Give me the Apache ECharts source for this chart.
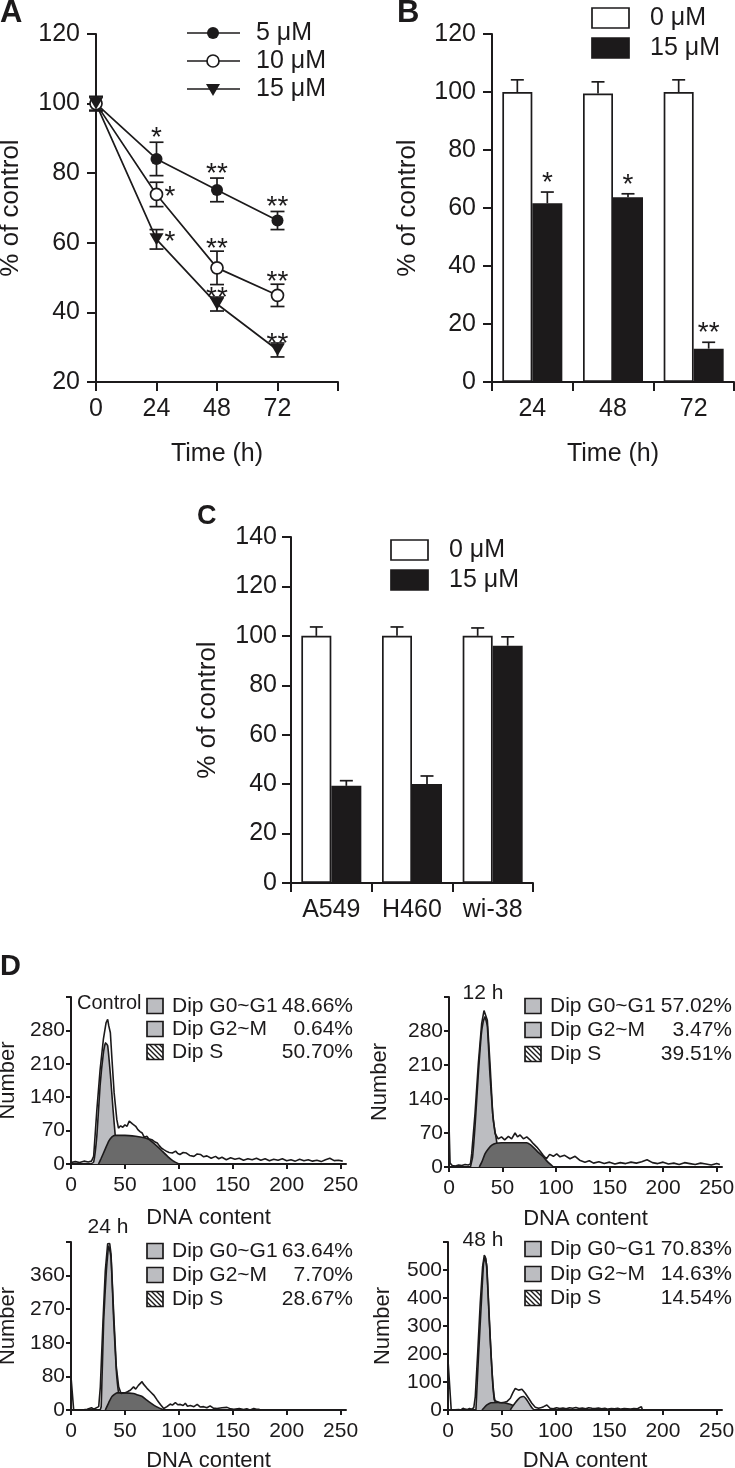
<!DOCTYPE html>
<html>
<head>
<meta charset="utf-8">
<script src="https://cdn.jsdelivr.net/npm/echarts@6/dist/echarts.min.js"></script>
<style>
html, body { margin: 0; padding: 0; background: #fff; }
#main { width: 735px; height: 1468px; }
</style>
</head>
<body>
<div id="main"></div>
<script>
// ---- A: viability vs time (3 doses)
var timeA = [0, 24, 48, 72];
var timeLabelsA = ['0', '24', '48', '72', ''];
var a5 = [100, 84.1, 75.2, 66.4];
var a5Err = [2, 4.8, 3.4, 2.6];
var a10 = [100, 73.9, 52.8, 44.9];
var a10Err = [2, 3.5, 4.8, 3.2];
var a15 = [100, 61.0, 42.4, 29.2];
var a15Err = [2, 2.8, 2.0, 2.0];
var a5Stars = ['', '*', '**', '**'];
var a10Stars = ['', '*', '**', '**'];
var a15Stars = ['', '*', '**', '**'];
var a10StarSide = ['top', 'right', 'top', 'top'];
var a15StarSide = ['top', 'right', 'top', 'top'];

// ---- B: 0 vs 15 uM by time
var timeB = ['24', '48', '72'];
var b0 = [100, 99.5, 100];
var b0Err = [4.2, 4.0, 4.2];
var b15 = [61.6, 63.7, 11.5];
var b15Err = [3.9, 1.2, 2.2];
var b15Stars = ['*', '*', '**'];

// ---- C: cell lines
var cellsC = ['A549', 'H460', 'wi-38'];
var c0 = [100, 100, 100];
var c0Err = [3.6, 3.6, 3.2];
var c15 = [39.3, 40.1, 96.0];
var c15Err = [2.1, 3.2, 3.6];

// ---- D: cell cycle histograms [DNA content, number]
var phaseNames = ['Dip G0~G1', 'Dip G2~M', 'Dip S'];
var dxTicks = [0, 50, 100, 150, 200, 250];

var ctrlPct = [48.66, 0.64, 50.70];
var ctrlYLabels = ['0', '70', '140', '210', '280', ''];
var ctrlRaw = [[0,3],[4,5],[8,3],[12,6],[16,4],[19,6],[21,16],[24,114],[27,198],[30,261],[32.5,296],[34,303],[35,290],[36.5,275],[38,219],[40,149],[42.5,93],[44,75],[46,80],[48,77],[50,82],[52,79],[54,90],[55.5,93],[57,84],[58,82],[60,79],[62,72],[64,68],[66,65],[68,56],[69,54],[70.5,58],[72,53],[75,51],[78,46],[80,44],[82,38],[84,33],[86,30],[89,26],[91,24],[94,23],[97,27],[99,22],[101,20],[104,24],[107,23],[110,18],[114,16],[117,21],[120,20],[123,15],[126,17],[130,12],[134,16],[137,11],[140,14],[144,9],[148,13],[152,10],[156,12],[160,8],[164,11],[168,9],[172,12],[176,8],[180,11],[184,7],[188,10],[192,8],[196,11],[200,7],[204,9],[208,6],[212,10],[216,7],[220,9],[224,6],[228,8],[232,5],[236,9],[240,12],[244,7],[248,8],[252,6]];
var ctrlG1 = [[18,0],[21,4],[24,60],[27,165],[30,232],[32,254],[34,248],[36.5,188],[39,114],[41,60],[43,25],[45,8],[47,0]];
var ctrlS = [[25.5,0],[28,12],[31.5,30],[35,48],[38,57],[41,60],[50,60],[60,58],[68,55],[72,52],[76,45],[80,37],[85,26],[90,15],[95,6],[100,0]];

var h12Pct = [57.02, 3.47, 39.51];
var h12YLabels = ['0', '70', '140', '210', '280', ''];
var h12Raw = [[0,89],[1,8],[3,3],[6,2],[9,4],[12,3],[15,5],[18,4],[20,6],[21.2,27],[24.3,110],[27.4,213],[30.5,295],[32.7,322],[34.3,324],[35.8,302],[38.3,213],[40.8,110],[43,69],[46,58],[49,62],[52,56],[55.5,63],[58.5,58],[61.7,70],[64,62],[66.4,66],[69.5,58],[72.6,62],[75.7,56],[78.8,48],[82,41],[85,33],[88,24],[91,17],[94,26],[97.5,22],[100.6,27],[103.7,21],[108,24],[113,17],[117.8,22],[122,14],[127,10],[131,13],[135,8],[140,11],[145,7],[150,10],[155,6],[160,9],[165,7],[170,10],[175,8],[180,11],[185,15],[190,9],[195,7],[200,10],[205,6],[210,8],[215,5],[220,9],[225,7],[230,5],[235,8],[240,6],[245,4],[250,7],[253,5]];
var h12G1 = [[20,0],[22,20],[24.5,90],[27.4,192],[30,270],[32,300],[33.6,309],[35.8,290],[38,200],[39.5,150],[41.4,96],[44,60],[46,30],[48,0]];
var h12S = [[28.3,0],[31,12],[33.6,27],[37,38],[40,45],[44,49],[49,50],[60,50],[72.6,50],[76,46],[79,40],[84,29],[88,21],[92,11],[97.5,0]];

var h24Pct = [63.64, 7.70, 28.67];
var h24YLabels = ['0', '80', '180', '270', '360', ''];
var h24Raw = [[0,89],[2.5,0],[10,0],[15,2],[16,6],[19,6],[21,2],[22.6,2],[25.7,9],[27.2,62],[29.7,240],[31.8,373],[34,445],[35.9,446],[37.1,418],[39.6,258],[42,116],[44.2,62],[46.4,44],[50.4,46],[53,50],[55,53],[58,62],[60,56],[61.2,58],[62.5,66],[63.7,71],[65.9,76],[67,70],[68,67],[70.5,58],[73.6,49],[76.7,40],[79.8,27],[82.9,15],[86,4],[89,9],[92,16],[94,13],[96.8,20],[99,14],[101.4,15],[104,12],[106,18],[108,10],[110.7,12],[114,9],[117,15],[120,8],[123,9],[126,6],[129,11],[132,5],[135.4,4],[140,6],[144.7,7],[148,3],[151,2],[156,4],[160,1],[163,3],[166,0],[169.5,4],[172,2],[174,2],[176,0]];
var h24G1 = [[27,0],[28,9],[30.3,240],[32.8,373],[35,440],[37.1,409],[39.6,240],[42,107],[44.2,44],[47.3,9],[49,0]];
var h24S = [[31.8,0],[35,20],[38,36],[42.7,46],[50,46],[58,44],[62,40],[66,36],[70,27],[76.7,13],[82,5],[86,0]];

var h48Pct = [70.83, 14.63, 14.54];
var h48YLabels = ['0', '100', '200', '300', '400', '500', ''];
var h48Raw = [[0,178],[3,0],[10,2],[12,0],[14,6],[16,3],[18,2],[20,5],[22,3],[24,8],[25.4,48],[27.6,202],[30,381],[32.2,512],[33.8,553],[35,541],[36.2,512],[37.8,381],[40,202],[41.8,83],[43,36],[45.5,30],[48,27],[50.2,26],[52.5,28],[54.8,30],[58,42],[60.4,62],[62.6,77],[64,74],[65.7,71],[67,76],[68.8,74],[70,68],[71.9,60],[75,42],[78,24],[81.2,10],[84.3,6],[87,9],[89,12],[92,18],[95,6],[98,4],[101,8],[104,5],[107,7],[110,4],[113,8],[116,6],[119,9],[122,5],[125,7],[128,4],[131,8],[134,6],[137,5],[140,7],[143,4],[146,6],[149,3],[152,5],[155,4],[158,6],[161,3],[164,5],[167,4],[170,3],[173,5],[176,4],[178,8],[180,12],[181,0]];
var h48G1 = [[26,0],[26.3,2],[28.5,202],[31,381],[33.1,524],[34.7,547],[36.2,500],[38.4,321],[40.9,143],[43,48],[45.5,6],[47,0]];
var h48S = [[31.6,0],[34,10],[36.2,18],[40,26],[46,27],[51.7,26],[55,23],[59.5,18],[63,12],[67,6],[71.9,0]];
var h48G2 = [[58,0],[60,12],[62.6,26],[65,37],[67.2,45],[70.3,48],[73.4,36],[76.5,17],[78.5,6],[80,0]];

var FONT = '"Liberation Sans", Arial, Helvetica, sans-serif';
var INK = '#1c1a1b';
var LIGHT = '#bcbdc1';
var DARK = '#6a6a6a';

function font(size, bold) {
    return (bold ? 'bold ' : '') + size + 'px ' + FONT;
}

function hatchFill() {
    var c = document.createElement('canvas');
    c.width = 5;
    c.height = 5;
    var g = c.getContext('2d');
    g.fillStyle = '#fff';
    g.fillRect(0, 0, 5, 5);
    g.strokeStyle = INK;
    g.lineWidth = 1.4;
    g.beginPath();
    g.moveTo(0, 0); g.lineTo(5, 5);
    g.moveTo(-1, 4); g.lineTo(1, 6);
    g.moveTo(4, -1); g.lineTo(6, 1);
    g.stroke();
    return { image: c, repeat: 'repeat' };
}

function grid(l, t, w, h) {
    return { left: l, top: t, width: w, height: h, outerBoundsMode: 'none', containLabel: false };
}

function ax(base, size, tick, margin, labels, custom, nameSize) {
    base.nameLocation = 'middle';
    base.nameMoveOverlap = false;
    base.nameTextStyle = { color: INK, fontSize: nameSize || size, fontFamily: FONT };
    base.axisLine = { show: true, onZero: false, lineStyle: { color: INK, width: 2 } };
    base.axisTick = { show: true, inside: false, length: tick, lineStyle: { color: INK, width: 2 } };
    base.axisLabel = { color: INK, fontSize: size, fontFamily: FONT, margin: margin, hideOverlap: false };
    base.splitLine = { show: false };
    if (labels) {
        base.axisLabel.formatter = function (v, i) { return labels[i] !== undefined ? labels[i] : ''; };
    }
    if (custom) {
        base.axisLabel.customValues = custom;
        base.axisTick.customValues = custom;
    }
    return base;
}

// error bars (+ asterisks) drawn with the axes' own coordinates
function errSeries(gi, xs, vals, errs, opt) {
    return {
        type: 'custom',
        xAxisIndex: gi,
        yAxisIndex: gi,
        z: opt.z || 3,
        silent: true,
        data: xs.map(function (x, i) { return [x, vals[i], errs[i]]; }),
        renderItem: function (params, api) {
            var i = params.dataIndex;
            var x = api.value(0), v = api.value(1), e = api.value(2);
            var top = api.coord([x, v + e]);
            var bot = api.coord([x, opt.both ? v - e : v]);
            var pt = api.coord([x, v]);
            var cx = top[0] + (opt.offset || 0);
            var hw = opt.cap / 2;
            var st = { stroke: INK, lineWidth: 1.7 };
            var kids = [
                { type: 'line', shape: { x1: cx, y1: top[1], x2: cx, y2: bot[1] }, style: st },
                { type: 'line', shape: { x1: cx - hw, y1: top[1], x2: cx + hw, y2: top[1] }, style: st }
            ];
            if (opt.both) {
                kids.push({ type: 'line', shape: { x1: cx - hw, y1: bot[1], x2: cx + hw, y2: bot[1] }, style: st });
            }
            var s = opt.stars ? opt.stars[i] : '';
            if (s) {
                var side = opt.side ? opt.side[i] : 'top';
                var tx = cx, ty = top[1] - opt.gap + 8, al = 'center';
                if (side === 'right') {
                    tx = cx + 8; ty = pt[1] + 3; al = 'left';
                }
                kids.push({ type: 'text', x: tx, y: ty, style: { text: s, fill: INK, font: font(28), align: al, verticalAlign: 'middle' } });
            }
            return { type: 'group', children: kids };
        }
    };
}

function area(gi, data, color, z) {
    return {
        type: 'line', xAxisIndex: gi, yAxisIndex: gi, data: data, symbol: 'none', smooth: 0.15,
        lineStyle: { color: INK, width: 1.6 }, areaStyle: { color: color, opacity: 1 }, z: z, silent: true
    };
}

function raw(gi, data) {
    return {
        type: 'line', xAxisIndex: gi, yAxisIndex: gi, data: data, symbol: 'none',
        lineStyle: { color: INK, width: 1.6 }, z: 6, silent: true
    };
}

function pairs(xs, ys) {
    return xs.map(function (x, i) { return [x, ys[i]]; });
}

var grids = [
    grid(96, 34, 242, 348),     // A
    grid(492, 34, 242, 348),    // B
    grid(291, 537, 242, 346),   // C
    grid(71, 997, 275, 167),    // D control
    grid(449, 997, 273, 170),   // D 12 h
    grid(71, 1242, 275, 168),   // D 24 h
    grid(448, 1242, 274, 168)   // D 48 h
];

var xAxes = [
    ax({ gridIndex: 0, type: 'value', min: 0, max: 96, interval: 24, name: 'Time (h)', nameGap: 60 }, 25, 9, 15, timeLabelsA, null, 25),
    ax({ gridIndex: 1, type: 'category', data: timeB, name: 'Time (h)', nameGap: 60 }, 25, 9, 15, null, null, 25),
    ax({ gridIndex: 2, type: 'category', data: cellsC }, 25, 9, 15),
    ax({ gridIndex: 3, type: 'value', min: 0, max: 255, name: 'DNA content', nameGap: 43 }, 21, 5, 11, null, dxTicks, 22),
    ax({ gridIndex: 4, type: 'value', min: 0, max: 255, name: 'DNA content', nameGap: 41 }, 21, 5, 11, null, dxTicks, 22),
    ax({ gridIndex: 5, type: 'value', min: 0, max: 255, name: 'DNA content', nameGap: 40 }, 21, 5, 11, null, dxTicks, 22),
    ax({ gridIndex: 6, type: 'value', min: 0, max: 255, name: 'DNA content', nameGap: 40 }, 21, 5, 11, null, dxTicks, 22)
];

var yAxes = [
    ax({ gridIndex: 0, type: 'value', min: 20, max: 120, interval: 20, name: '% of control', nameGap: 72 }, 25, 9, 16, null, null, 26),
    ax({ gridIndex: 1, type: 'value', min: 0, max: 120, interval: 20, name: '% of control', nameGap: 71 }, 25, 9, 16, null, null, 26),
    ax({ gridIndex: 2, type: 'value', min: 0, max: 140, interval: 20, name: '% of control', nameGap: 70 }, 25, 9, 14, null, null, 26),
    ax({ gridIndex: 3, type: 'value', min: 0, max: 350, interval: 70, name: 'Number', nameGap: 52 }, 21, 5, 6, ctrlYLabels, null, 22),
    ax({ gridIndex: 4, type: 'value', min: 0, max: 350, interval: 70, name: 'Number', nameGap: 58 }, 21, 5, 6, h12YLabels, null, 22),
    ax({ gridIndex: 5, type: 'value', min: 0, max: 450, interval: 90, name: 'Number', nameGap: 52 }, 21, 5, 6, h24YLabels, null, 22),
    ax({ gridIndex: 6, type: 'value', min: 0, max: 600, interval: 100, name: 'Number', nameGap: 54 }, 21, 5, 6, h48YLabels, null, 22)
];

var series = [
    // A
    errSeries(0, timeA, a5, a5Err, { both: true, cap: 14, stars: a5Stars, gap: 12 }),
    errSeries(0, timeA, a10, a10Err, { both: true, cap: 14, stars: a10Stars, side: a10StarSide, gap: 10 }),
    errSeries(0, timeA, a15, a15Err, { both: true, cap: 14, stars: a15Stars, side: a15StarSide, gap: 7 }),
    { type: 'line', name: '5 μM', xAxisIndex: 0, yAxisIndex: 0, data: pairs(timeA, a5), symbol: 'circle', symbolSize: 12,
      itemStyle: { color: INK }, lineStyle: { color: INK, width: 1.7 }, z: 5 },
    { type: 'line', name: '10 μM', xAxisIndex: 0, yAxisIndex: 0, data: pairs(timeA, a10), symbol: 'circle', symbolSize: 12,
      itemStyle: { color: '#fff', borderColor: INK, borderWidth: 1.7 }, lineStyle: { color: INK, width: 1.7 }, z: 5 },
    { type: 'line', name: '15 μM', xAxisIndex: 0, yAxisIndex: 0, data: pairs(timeA, a15), symbol: 'triangle', symbolRotate: 180,
      symbolSize: [14, 12], itemStyle: { color: INK }, lineStyle: { color: INK, width: 1.7 }, z: 5 },
    // B
    { type: 'bar', name: '0 μM', xAxisIndex: 1, yAxisIndex: 1, data: b0, barWidth: 30, barGap: '0%',
      itemStyle: { color: '#fff', borderColor: INK, borderWidth: 1.7 }, z: 2 },
    { type: 'bar', name: '15 μM', xAxisIndex: 1, yAxisIndex: 1, data: b15, barWidth: 30, barGap: '0%',
      itemStyle: { color: INK, borderColor: INK, borderWidth: 1.7 }, z: 2 },
    errSeries(1, [0, 1, 2], b0, b0Err, { offset: -15, cap: 13 }),
    errSeries(1, [0, 1, 2], b15, b15Err, { offset: 15, cap: 13, stars: b15Stars, gap: 17 }),
    // C
    { type: 'bar', name: '0 μM', xAxisIndex: 2, yAxisIndex: 2, data: c0, barWidth: 30, barGap: '0%',
      itemStyle: { color: '#fff', borderColor: INK, borderWidth: 1.7 }, z: 2 },
    { type: 'bar', name: '15 μM', xAxisIndex: 2, yAxisIndex: 2, data: c15, barWidth: 30, barGap: '0%',
      itemStyle: { color: INK, borderColor: INK, borderWidth: 1.7 }, z: 2 },
    errSeries(2, [0, 1, 2], c0, c0Err, { offset: -15, cap: 13 }),
    errSeries(2, [0, 1, 2], c15, c15Err, { offset: 15, cap: 13 }),
    // D
    area(3, ctrlG1, LIGHT, 2), area(3, ctrlS, DARK, 3), raw(3, ctrlRaw),
    area(4, h12G1, LIGHT, 2), area(4, h12S, DARK, 3), raw(4, h12Raw),
    area(5, h24G1, LIGHT, 2), area(5, h24S, DARK, 3), raw(5, h24Raw),
    area(6, h48G1, LIGHT, 2), area(6, h48S, DARK, 3), area(6, h48G2, LIGHT, 4), raw(6, h48Raw)
];

// ---- legends / labels (graphic)
var graphics = [];
var hatch = hatchFill();

function label(x, y, text, size, opt) {
    opt = opt || {};
    graphics.push({ type: 'text', x: x, y: y, z: 10,
        style: { text: text, fill: INK, font: font(size, opt.bold), align: opt.align || 'left', verticalAlign: 'middle' } });
}

// A legend
[33, 61, 89].forEach(function (y, i) {
    graphics.push({ type: 'line', shape: { x1: 187, y1: y, x2: 240, y2: y }, style: { stroke: INK, lineWidth: 1.7 } });
    if (i === 0) {
        graphics.push({ type: 'circle', shape: { cx: 213, cy: y, r: 6 }, style: { fill: INK } });
    } else if (i === 1) {
        graphics.push({ type: 'circle', shape: { cx: 213, cy: y, r: 6 }, style: { fill: '#fff', stroke: INK, lineWidth: 1.7 } });
    } else {
        graphics.push({ type: 'polygon', shape: { points: [[206, y - 5], [220, y - 5], [213, y + 7]] }, style: { fill: INK } });
    }
});
label(256, 33, '5 μM', 25);
label(256, 61, '10 μM', 25);
label(256, 89, '15 μM', 25);

// B / C legends
function boxLegend(x, y0) {
    graphics.push({ type: 'rect', shape: { x: x, y: y0, width: 37, height: 20 }, style: { fill: '#fff', stroke: INK, lineWidth: 1.7 } });
    graphics.push({ type: 'rect', shape: { x: x, y: y0 + 30, width: 37, height: 20 }, style: { fill: INK, stroke: INK, lineWidth: 1.7 } });
    label(x + 58, y0 + 10, '0 μM', 25);
    label(x + 58, y0 + 40, '15 μM', 25);
}
boxLegend(592, 8);
boxLegend(391, 540);

// D legends
function dLegend(x0, rows, right, pct) {
    rows.forEach(function (y, i) {
        graphics.push({ type: 'rect', shape: { x: x0, y: y - 7.5, width: 16, height: 15 },
            style: { fill: i === 2 ? hatch : LIGHT, stroke: INK, lineWidth: 1.7 } });
        label(x0 + 25, y, phaseNames[i], 21);
        label(right, y, pct[i].toFixed(2) + '%', 21, { align: 'right' });
    });
}
dLegend(147, [1006, 1029, 1052], 353, ctrlPct);
dLegend(525, [1006, 1030, 1054], 732, h12Pct);
dLegend(147, [1251, 1275, 1299], 353, h24Pct);
dLegend(525, [1249, 1274, 1298], 732, h48Pct);

label(77, 1003, 'Control', 20);
label(483, 993, '12 h', 21, { align: 'center' });
label(108, 1227, '24 h', 21, { align: 'center' });
label(483, 1240, '48 h', 21, { align: 'center' });

// panel letters
label(0, 13, 'A', 31, { bold: true });
label(397, 13, 'B', 31, { bold: true });
label(197, 517, 'C', 27, { bold: true });
label(0, 967, 'D', 29, { bold: true });

var chart = echarts.init(document.getElementById('main'), null, { renderer: 'canvas' });
chart.setOption({
    animation: false,
    backgroundColor: '#fff',
    textStyle: { fontFamily: FONT },
    grid: grids,
    xAxis: xAxes,
    yAxis: yAxes,
    series: series,
    graphic: graphics
});
</script>
</body>
</html>
